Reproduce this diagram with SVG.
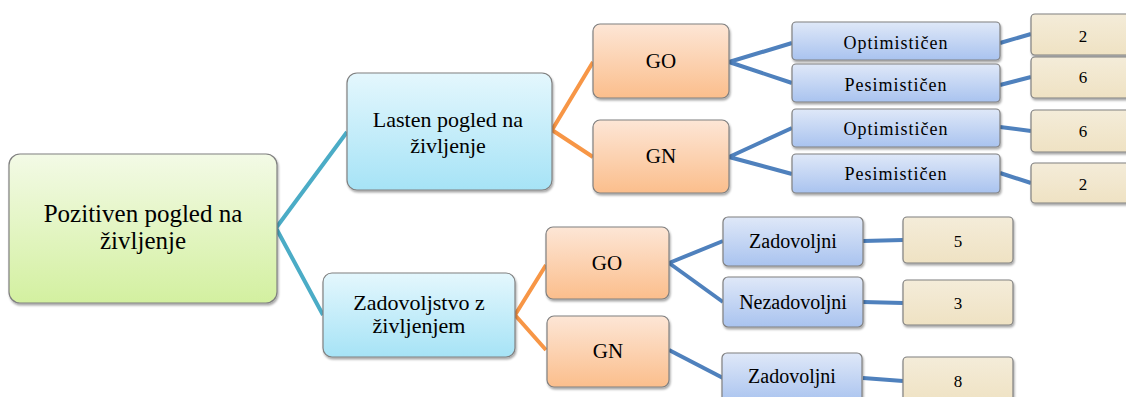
<svg xmlns="http://www.w3.org/2000/svg" width="1126" height="397" viewBox="0 0 1126 397">
<defs>
<linearGradient id="gGreen" x1="0" y1="0" x2="0" y2="1"><stop offset="0" stop-color="#F3FAE6"/><stop offset="1" stop-color="#D3F0A0"/></linearGradient>
<linearGradient id="gCyan" x1="0" y1="0" x2="0" y2="1"><stop offset="0" stop-color="#E4F7FD"/><stop offset="1" stop-color="#A6E3F6"/></linearGradient>
<linearGradient id="gOrange" x1="0" y1="0" x2="0" y2="1"><stop offset="0" stop-color="#FDE6D6"/><stop offset="1" stop-color="#FBBE8C"/></linearGradient>
<linearGradient id="gBlue" x1="0" y1="0" x2="0" y2="1"><stop offset="0" stop-color="#DFE8F8"/><stop offset="1" stop-color="#A9C3EF"/></linearGradient>
<linearGradient id="gTan" x1="0" y1="0" x2="0" y2="1"><stop offset="0" stop-color="#F4ECD9"/><stop offset="1" stop-color="#EFE2C3"/></linearGradient>
<filter id="sh" x="-10%" y="-10%" width="120%" height="130%"><feDropShadow dx="1" dy="2" stdDeviation="1" flood-color="#000" flood-opacity="0.35"/></filter>
<style>
.box{stroke:#808080;stroke-width:1.2;filter:url(#sh)}
text{font-family:'Liberation Serif','Times New Roman',serif;fill:#000;text-anchor:middle}
.big{font-size:25px}
.mid{font-size:22px}
.go{font-size:21px}
.leaf{font-size:18px;letter-spacing:1px}
.zl{font-size:20px}
.num{font-size:17px}
.teal{stroke:#4BACC6;stroke-width:4;fill:none;stroke-linejoin:round}
.orng{stroke:#F79646;stroke-width:4;fill:none;stroke-linejoin:round}
.blu{stroke:#4F81BD;stroke-width:4;fill:none;stroke-linejoin:round}
</style>
</defs>
<g id="connectors">
<polyline class="teal" points="347,132 276,228 323,315"/>
<polyline class="orng" points="593,62 552,130 593,157"/>
<polyline class="orng" points="546,265 515,315 546,350"/>
<polyline class="blu" points="792,43 729,62 792,83"/>
<polyline class="blu" points="792,128 729,157 792,174"/>
<line class="blu" x1="1000" y1="43" x2="1031" y2="34"/>
<line class="blu" x1="1000" y1="85" x2="1031" y2="77"/>
<line class="blu" x1="1000" y1="127" x2="1031" y2="131"/>
<line class="blu" x1="1000" y1="173" x2="1031" y2="183"/>
<polyline class="blu" points="723,241 669,263 723,302"/>
<line class="blu" x1="669" y1="350" x2="723" y2="378"/>
<line class="blu" x1="863" y1="241" x2="903" y2="240"/>
<line class="blu" x1="863" y1="302" x2="903" y2="303"/>
<line class="blu" x1="863" y1="378" x2="903" y2="381"/>
</g>
<g id="root"><rect class="box" x="9" y="154" width="268" height="149" rx="11" fill="url(#gGreen)"/><text class="big" x="143" y="222">Pozitiven pogled na</text><text class="big" x="143" y="249">življenje</text></g>
<g id="lasten"><rect class="box" x="347" y="73" width="205" height="117" rx="10" fill="url(#gCyan)"/><text class="mid" x="448" y="127">Lasten pogled na</text><text class="mid" x="448" y="153">življenje</text></g>
<g id="zadovoljstvo"><rect class="box" x="323" y="273" width="192" height="84" rx="9" fill="url(#gCyan)"/><text class="mid" x="419" y="310">Zadovoljstvo z</text><text class="mid" x="419" y="333">življenjem</text></g>
<g id="go1"><rect class="box" x="593" y="24" width="136" height="74" rx="7" fill="url(#gOrange)"/><text class="go" x="661" y="68">GO</text></g>
<g id="gn1"><rect class="box" x="593" y="120" width="136" height="73" rx="7" fill="url(#gOrange)"/><text class="go" x="661" y="163">GN</text></g>
<g id="go2"><rect class="box" x="546" y="227" width="123" height="72" rx="7" fill="url(#gOrange)"/><text class="go" x="607" y="270">GO</text></g>
<g id="gn2"><rect class="box" x="547" y="316" width="122" height="71" rx="7" fill="url(#gOrange)"/><text class="go" x="608" y="358">GN</text></g>
<g id="opt1"><rect class="box" x="792" y="22" width="208" height="38" rx="4" fill="url(#gBlue)"/><text class="leaf" x="896" y="49">Optimističen</text></g>
<g id="pes1"><rect class="box" x="792" y="64" width="208" height="38" rx="4" fill="url(#gBlue)"/><text class="leaf" x="896" y="91">Pesimističen</text></g>
<g id="opt2"><rect class="box" x="792" y="109" width="208" height="38" rx="4" fill="url(#gBlue)"/><text class="leaf" x="896" y="135">Optimističen</text></g>
<g id="pes2"><rect class="box" x="792" y="154" width="208" height="39" rx="4" fill="url(#gBlue)"/><text class="leaf" x="896" y="180">Pesimističen</text></g>
<g id="zad1"><rect class="box" x="723" y="217" width="140" height="49" rx="5" fill="url(#gBlue)"/><text class="zl" x="793" y="248">Zadovoljni</text></g>
<g id="nezad"><rect class="box" x="723" y="277" width="140" height="50" rx="5" fill="url(#gBlue)"/><text class="zl" x="793" y="309">Nezadovoljni</text></g>
<g id="zad2"><rect class="box" x="722" y="353" width="140" height="50" rx="5" fill="url(#gBlue)"/><text class="zl" x="792" y="383">Zadovoljni</text></g>
<g id="n2a"><rect class="box" x="1031" y="14" width="110" height="41" rx="4" fill="url(#gTan)"/><text class="num" x="1083" y="42">2</text></g>
<g id="n6a"><rect class="box" x="1031" y="57" width="110" height="41" rx="4" fill="url(#gTan)"/><text class="num" x="1083" y="83">6</text></g>
<g id="n6b"><rect class="box" x="1031" y="110" width="110" height="42" rx="4" fill="url(#gTan)"/><text class="num" x="1083" y="137">6</text></g>
<g id="n2b"><rect class="box" x="1031" y="163" width="110" height="40" rx="4" fill="url(#gTan)"/><text class="num" x="1083" y="190">2</text></g>
<g id="n5"><rect class="box" x="903" y="217" width="110" height="46" rx="4" fill="url(#gTan)"/><text class="num" x="958" y="247">5</text></g>
<g id="n3"><rect class="box" x="903" y="280" width="110" height="45" rx="4" fill="url(#gTan)"/><text class="num" x="958" y="309">3</text></g>
<g id="n8"><rect class="box" x="903" y="357" width="110" height="46" rx="4" fill="url(#gTan)"/><text class="num" x="958" y="387">8</text></g>
</svg>
